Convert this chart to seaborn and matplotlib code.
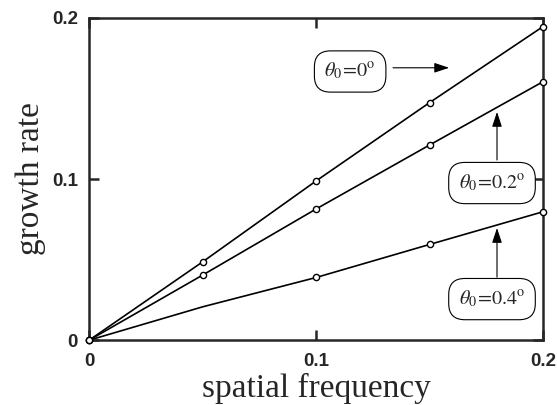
import numpy as np
import pandas as pd
import matplotlib
matplotlib.use('Agg')
import matplotlib.pyplot as plt
import seaborn as sns

# 資料：三條曲線
freq = [0.0, 0.05, 0.10, 0.15, 0.20]
rate_0 = [0.0, 0.0486, 0.0988, 0.1474, 0.1946]
rate_02 = [0.0, 0.0404, 0.0814, 0.1211, 0.1604]
rate_04 = [0.0, 0.0207, 0.0389, 0.0594, 0.0797]
marked_04 = [True, False, True, True, True]   # 0.05 那一點沒有畫圓圈

labels = [r'$\theta_0\!=\!0^{\mathrm{o}}$',
          r'$\theta_0\!=\!0.2^{\mathrm{o}}$',
          r'$\theta_0\!=\!0.4^{\mathrm{o}}$']
ticks = [0, 0.1, 0.2]
tick_labels = ['0', '0.1', '0.2']

rows = []
for name, vals, marks in [('0', rate_0, [True] * 5),
                          ('0.2', rate_02, [True] * 5),
                          ('0.4', rate_04, marked_04)]:
    for f, v, m in zip(freq, vals, marks):
        rows.append({'series': name, 'freq': f, 'rate': v, 'marked': m})
df = pd.DataFrame(rows)

sns.set_style('ticks')
plt.rcParams['mathtext.fontset'] = 'stix'
plt.rcParams['font.family'] = ['Liberation Sans', 'DejaVu Sans']

fig = plt.figure(figsize=(5.57, 4.05), dpi=100)
ax = fig.add_axes([0.160, 0.160, 0.815, 0.796])

sns.lineplot(data=df, x='freq', y='rate', units='series', estimator=None,
             color='black', linewidth=1.2, ax=ax, legend=False)
for line in ax.lines:
    line.set_clip_on(False)
sns.scatterplot(data=df[df['marked']], x='freq', y='rate', ax=ax,
                s=20, facecolor='white', edgecolor='black',
                linewidth=1.0, zorder=5, legend=False)
for c in ax.collections:
    c.set_clip_on(False)

ax.set_xlim(0, 0.2)
ax.set_ylim(0, 0.2)
ax.set_xticks(ticks)
ax.set_yticks(ticks)
ax.set_xticklabels(tick_labels, fontsize=13.5, fontweight='bold')
ax.set_yticklabels(tick_labels, fontsize=13.5, fontweight='bold')
ax.tick_params(axis='x', direction='in', length=7, width=1.8, top=True,
               pad=9)
ax.tick_params(axis='y', direction='in', length=7, width=1.8, right=True,
               pad=8)
for sp in ax.spines.values():
    sp.set_linewidth(1.8)
    sp.set_visible(True)

ax.set_xlabel('spatial frequency', family='Liberation Serif', fontsize=24,
              labelpad=2)
ax.set_ylabel('growth rate', family='Liberation Serif', fontsize=24,
              labelpad=4)

# 標註方框與箭頭
box = dict(boxstyle='round,pad=0.5,rounding_size=0.8', facecolor='white',
           edgecolor='black', linewidth=0.8)
ax.text(0.1150, 0.1667, labels[0], fontsize=14.5, ha='center', va='center',
        bbox=box)
ax.text(0.1775, 0.0975, labels[1], fontsize=14.5, ha='center', va='center',
        bbox=box)
ax.text(0.1775, 0.0255, labels[2], fontsize=14.5, ha='center', va='center',
        bbox=box)
arrow = dict(arrowstyle='-|>,head_length=0.9,head_width=0.3', color='black',
             linewidth=0.8, shrinkA=0, shrinkB=0)
ax.annotate('', xy=(0.1586, 0.1690), xytext=(0.1339, 0.1690),
            arrowprops=arrow)
ax.annotate('', xy=(0.1797, 0.1416), xytext=(0.1797, 0.1118),
            arrowprops=arrow)
ax.annotate('', xy=(0.1797, 0.0696), xytext=(0.1797, 0.0391),
            arrowprops=arrow)

plt.savefig('out.png', dpi=100)
